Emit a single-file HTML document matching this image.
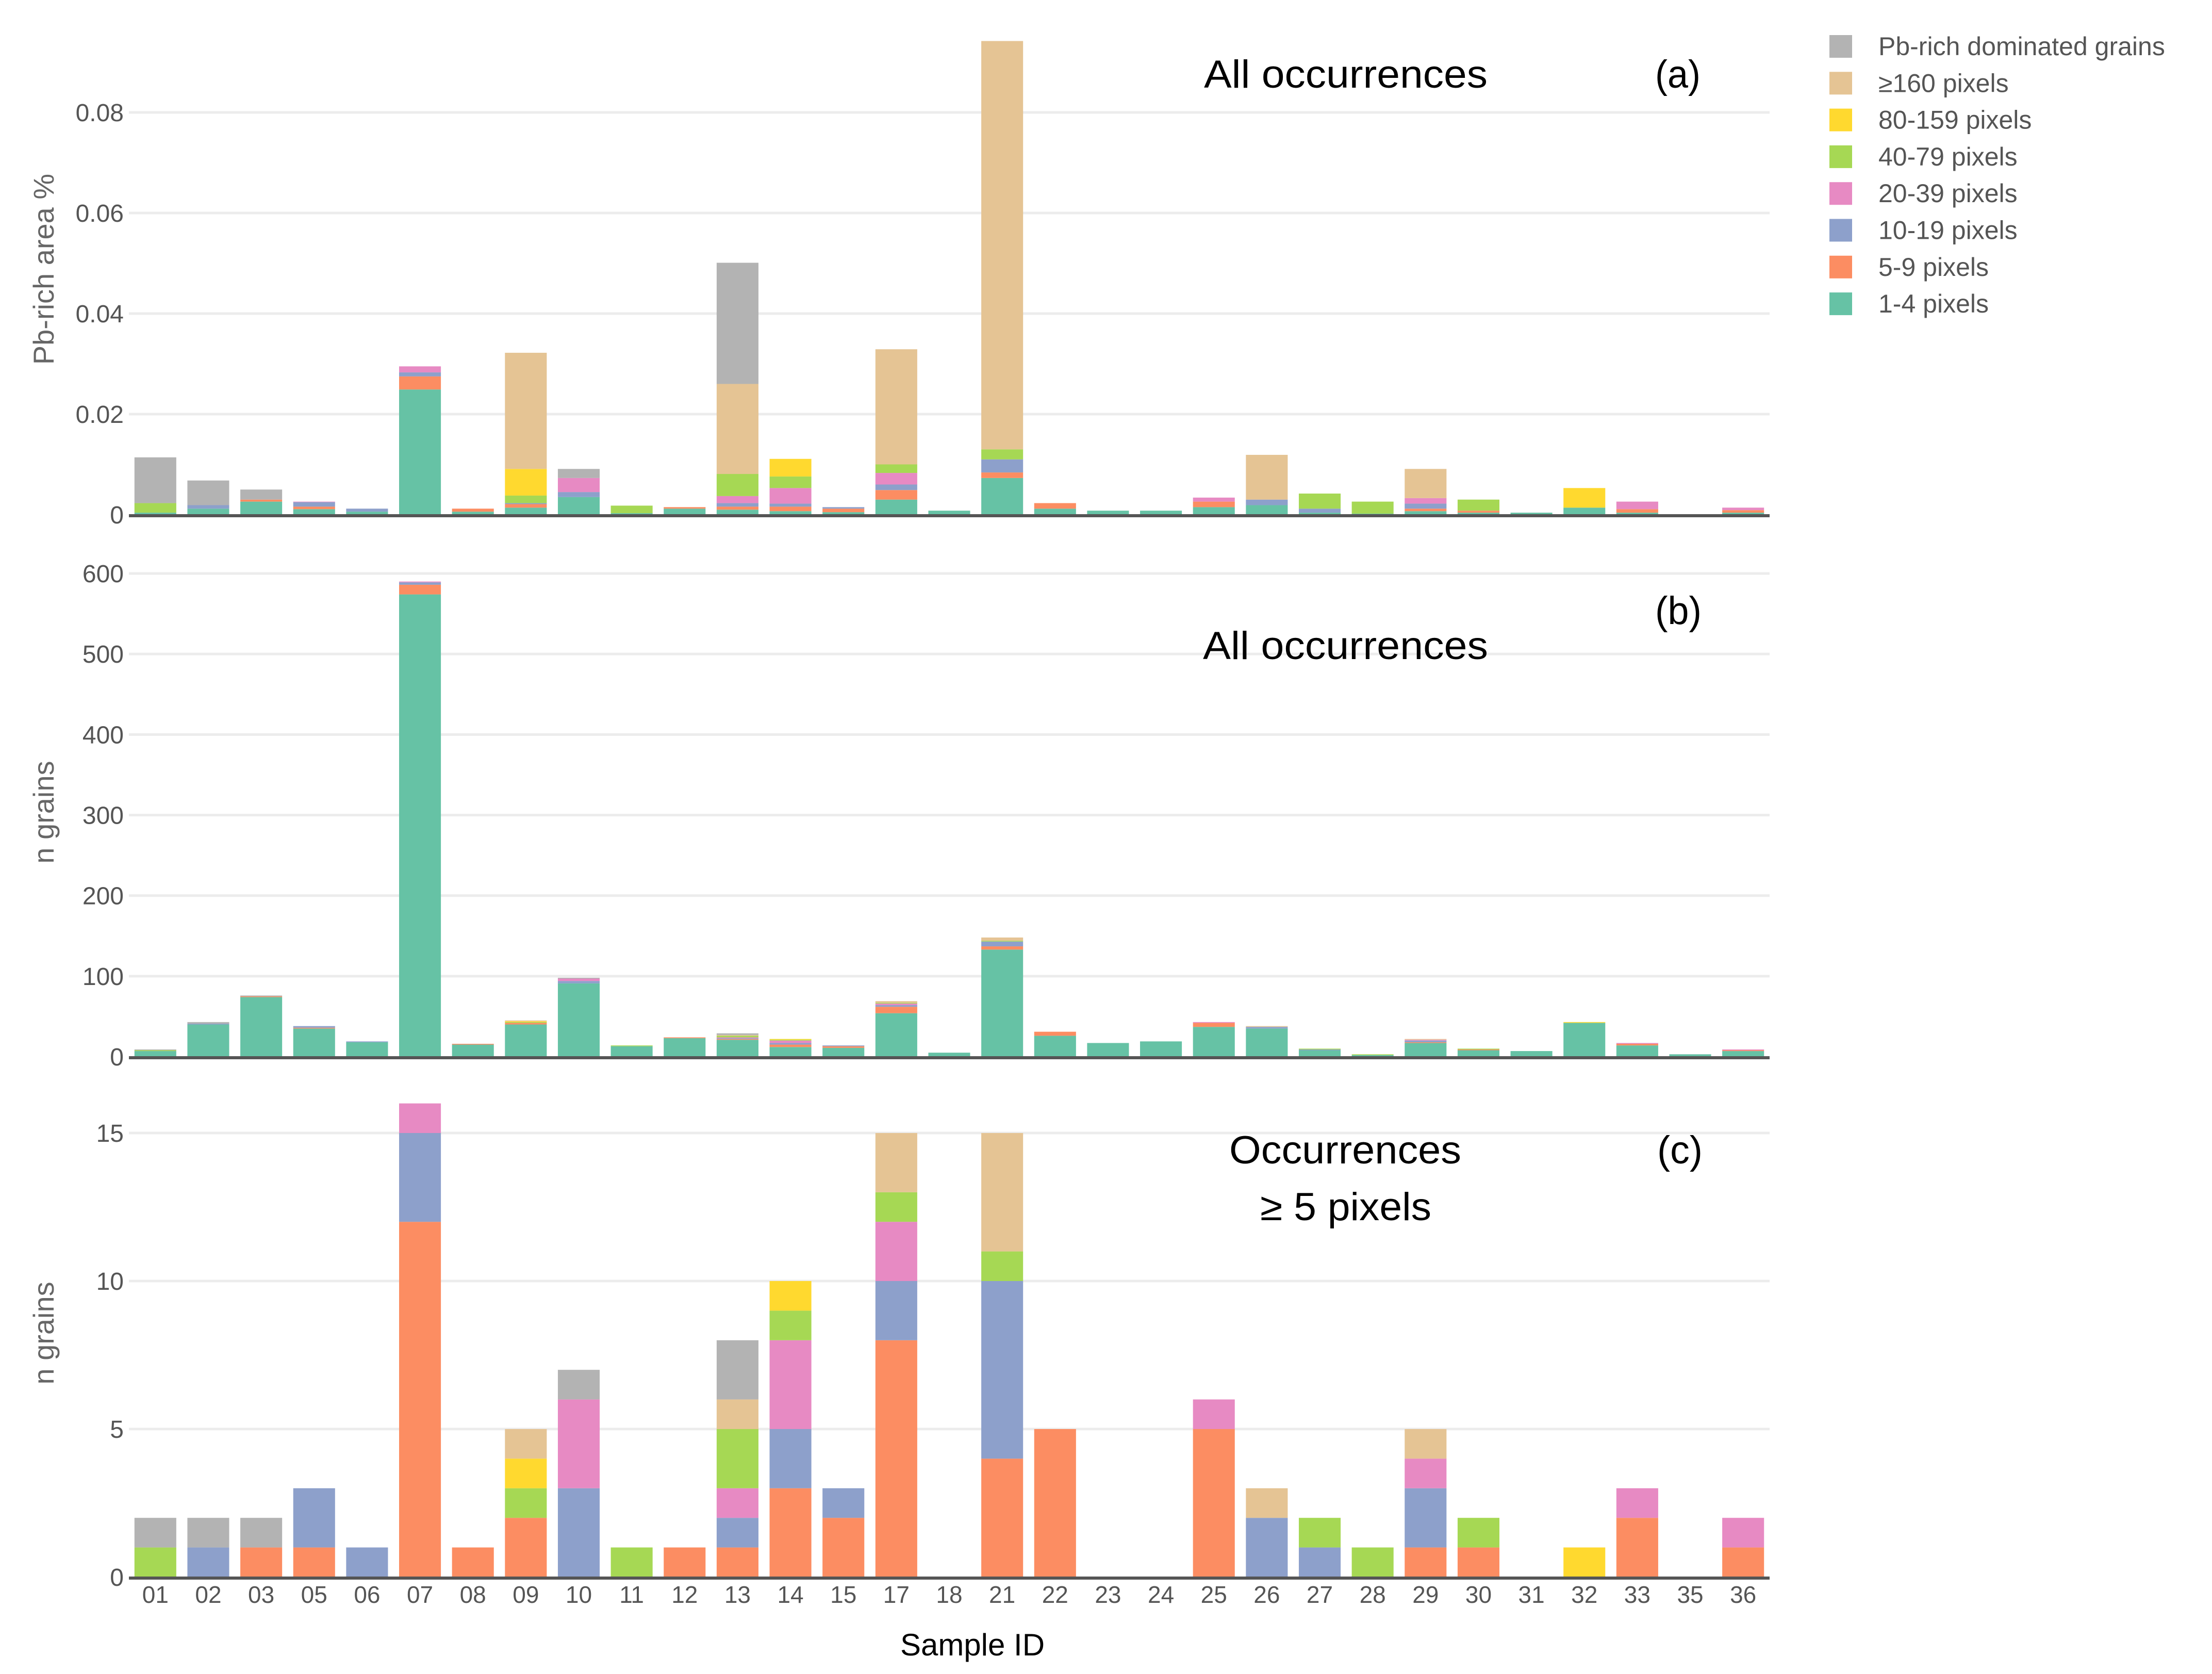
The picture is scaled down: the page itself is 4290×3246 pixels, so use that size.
<!DOCTYPE html>
<html><head><meta charset="utf-8"><style>
html,body{margin:0;padding:0;background:#fff;}
svg{display:block;}
</style></head><body>
<svg id="chart" width="4290" height="3246" viewBox="0 0 4290 3246" xmlns="http://www.w3.org/2000/svg" font-family="Liberation Sans, sans-serif">
<rect width="4290" height="3246" fill="#fff"/>
<g id="legend"></g>
<g id="pa"></g>
<g id="pb"></g>
<g id="pc"></g>
<text x="2335" y="170" font-size="76" textLength="550" lengthAdjust="spacingAndGlyphs" fill="#000">All occurrences</text>
<text x="3210" y="170" font-size="76" textLength="88" lengthAdjust="spacingAndGlyphs" fill="#000">(a)</text>
<text x="2333" y="1278" font-size="76" textLength="553" lengthAdjust="spacingAndGlyphs" fill="#000">All occurrences</text>
<text x="3210" y="1210" font-size="76" textLength="90" lengthAdjust="spacingAndGlyphs" fill="#000">(b)</text>
<text x="2384" y="2256" font-size="76" textLength="450" lengthAdjust="spacingAndGlyphs" fill="#000">Occurrences</text>
<text x="2444" y="2366" font-size="76" textLength="332" lengthAdjust="spacingAndGlyphs" fill="#000">≥ 5 pixels</text>
<text x="3214" y="2256" font-size="76" textLength="88" lengthAdjust="spacingAndGlyphs" fill="#000">(c)</text>
<text x="1886" y="3210" font-size="60" text-anchor="middle" fill="#000">Sample ID</text>
<text transform="translate(104,522) rotate(-90)" font-size="56" text-anchor="middle" fill="#666">Pb-rich area %</text>
<text transform="translate(104,1575) rotate(-90)" font-size="56" text-anchor="middle" fill="#666">n grains</text>
<text transform="translate(104,2585) rotate(-90)" font-size="56" text-anchor="middle" fill="#666">n grains</text>
</svg>
<script>
const categories = ["01","02","03","05","06","07","08","09","10","11","12","13","14","15","17","18","21","22","23","24","25","26","27","28","29","30","31","32","33","35","36"];
const seriesNames = ["1-4 pixels","5-9 pixels","10-19 pixels","20-39 pixels","40-79 pixels","80-159 pixels","≥160 pixels","Pb-rich dominated grains"];
const seriesColors = ["#66c2a5","#fc8d62","#8da0cb","#e78ac3","#a6d854","#ffd92f","#e5c494","#b3b3b3"];

// Panel (a): Pb-rich area %
const aT  = [.0004,.0012,.0026,.0011,.0006,.0249,.0006,.0014,.0035,.0003,.0012,.0010,.0007,.0005,.0030,.0008,.0073,.0012,.0008,.0008,.0015,.0019,.0004,.0002,.0007,.0004,.0004,.0014,.0004,0,.0004];
const aO  = [0,0,.0004,.0005,0,.0026,.0006,.0007,0,0,.0003,.0006,.0009,.0007,.0019,0,.0011,.0011,0,0,.0011,0,0,0,.0005,.0004,0,0,.0007,0,.0005];
const aB  = [0,.0007,0,.0009,.0006,.0008,0,.0002,.0010,0,0,.0007,.0006,.0003,.0011,0,.0026,0,0,0,0,.0011,.0008,0,.0010,0,0,0,0,0,0];
const aP  = [0,0,0,.0001,0,.0012,0,0,.0028,0,0,.0014,.0031,0,.0023,0,0,0,0,0,.0008,0,0,0,.0011,0,0,0,.0015,0,.0005];
const aG  = [.0019,0,0,0,0,0,0,.0015,0,.0015,0,.0044,.0023,0,.0017,0,.0020,0,0,0,0,0,.0030,.0024,0,.0022,0,0,0,0,0];
const aY  = [0,0,0,0,0,0,0,.0053,0,0,0,0,.0035,0,0,0,0,0,0,0,0,0,0,0,0,0,0,.0039,0,0,0];
const aTan= [0,0,0,0,0,0,0,.0231,0,0,0,.0179,0,0,.0229,0,.0812,0,0,0,0,.0089,0,0,.0058,0,0,0,0,0,0];
const aGr = [.0091,.0049,.0020,0,0,0,0,0,.0018,0,0,.0241,0,0,0,0,0,0,0,0,0,0,0,0,0,0,0,0,0,0,0];
const aTicks = [0,0.02,0.04,0.06,0.08];
const aTickLabels = ["0","0.02","0.04","0.06","0.08"];

// Panel (b): n grains, all occurrences
const bT  = [7,40,74,35,18,574,15,40,91,13,23,21,12,11,54,5,133,26,17,19,37,35,8,2,17,8,7,42,14,3,7];
const bO  = [0,0,1,1,0,12,1,2,0,0,1,1,3,2,8,0,4,5,0,0,5,0,0,0,1,1,0,0,2,0,1];
const bB  = [0,1,0,2,1,3,0,0,3,0,0,1,2,1,2,0,6,0,0,0,0,2,1,0,2,0,0,0,0,0,0];
const bP  = [0,0,0,0,0,1,0,0,3,0,0,1,3,0,2,0,0,0,0,0,1,0,0,0,1,0,0,0,1,0,1];
const bG  = [1,0,0,0,0,0,0,1,0,1,0,2,1,0,1,0,1,0,0,0,0,0,1,1,0,1,0,0,0,0,0];
const bY  = [0,0,0,0,0,0,0,1,0,0,0,0,1,0,0,0,0,0,0,0,0,0,0,0,0,0,0,1,0,0,0];
const bTan= [0,0,0,0,0,0,0,1,0,0,0,1,0,0,2,0,4,0,0,0,0,1,0,0,1,0,0,0,0,0,0];
const bGr = [1,2,1,0,0,0,0,0,1,0,0,2,0,0,0,0,0,0,0,0,0,0,0,0,0,0,0,0,0,0,0];
const bTicks = [0,100,200,300,400,500,600];
const bTickLabels = ["0","100","200","300","400","500","600"];

// Panel (c): n grains, occurrences >= 5 pixels
const cT  = [0,0,0,0,0,0,0,0,0,0,0,0,0,0,0,0,0,0,0,0,0,0,0,0,0,0,0,0,0,0,0];
const cO  = [0,0,1,1,0,12,1,2,0,0,1,1,3,2,8,0,4,5,0,0,5,0,0,0,1,1,0,0,2,0,1];
const cB  = [0,1,0,2,1,3,0,0,3,0,0,1,2,1,2,0,6,0,0,0,0,2,1,0,2,0,0,0,0,0,0];
const cP  = [0,0,0,0,0,1,0,0,3,0,0,1,3,0,2,0,0,0,0,0,1,0,0,0,1,0,0,0,1,0,1];
const cG  = [1,0,0,0,0,0,0,1,0,1,0,2,1,0,1,0,1,0,0,0,0,0,1,1,0,1,0,0,0,0,0];
const cY  = [0,0,0,0,0,0,0,1,0,0,0,0,1,0,0,0,0,0,0,0,0,0,0,0,0,0,0,1,0,0,0];
const cTan= [0,0,0,0,0,0,0,1,0,0,0,1,0,0,2,0,4,0,0,0,0,1,0,0,1,0,0,0,0,0,0];
const cGr = [1,1,1,0,0,0,0,0,1,0,0,2,0,0,0,0,0,0,0,0,0,0,0,0,0,0,0,0,0,0,0];
const cTicks = [0,5,10,15];
const cTickLabels = ["0","5","10","15"];

const NS = "http://www.w3.org/2000/svg";
const X0 = 250, X1 = 3432;
const band = (X1 - X0) / categories.length;
const barW = band * 0.79;
function xPos(i){ return X0 + band * i + (band - barW) / 2; }
function mk(tag, attrs, parent){
  const e = document.createElementNS(NS, tag);
  for (const k in attrs) e.setAttribute(k, attrs[k]);
  parent.appendChild(e);
  return e;
}
function drawPanel(gid, y0, yTop, vTop, series, ticks, tickLabels, showX, pname){
  const g = document.getElementById(gid);
  const yScale = v => y0 - (v / vTop) * (y0 - yTop);
  ticks.forEach((t, k) => {
    if (t !== 0) {
      const gl = mk("line", {x1:X0, x2:X1, y1:yScale(t), y2:yScale(t), stroke:"#ececec", "stroke-width":5}, g);
      
      
    }
    const tl = mk("text", {x:240, y:yScale(t)+17, "font-size":48, "text-anchor":"end", fill:"#555"}, g);
    tl.textContent = tickLabels[k];
    
    
  });
  categories.forEach((c, i) => {
    let acc = 0;
    series.forEach((arr, s) => {
      const v = arr[i];
      if (v > 0) {
        const yA = yScale(acc), yB = yScale(acc + v);
        const r = mk("rect", {x:xPos(i), y:yB, width:barW, height:yA - yB, fill:seriesColors[s]}, g);
        
        
      }
      acc += v;
    });
    if (showX) {
      const xl = mk("text", {x:xPos(i)+barW/2, y:y0+50, "font-size":46, "text-anchor":"middle", fill:"#555"}, g);
      xl.textContent = c;
      
      
    }
  });
  const ax = mk("line", {x1:X0, x2:X1, y1:y0+2, y2:y0+2, stroke:"#555", "stroke-width":6}, g);
  
  
}
drawPanel("pa", 998, 218, 0.08, [aT,aO,aB,aP,aG,aY,aTan,aGr], aTicks, aTickLabels, false, "panel-a");
drawPanel("pb", 2049, 1112, 600, [bT,bO,bB,bP,bG,bY,bTan,bGr], bTicks, bTickLabels, false, "panel-b");
drawPanel("pc", 3058, 2197, 15, [cT,cO,cB,cP,cG,cY,cTan,cGr], cTicks, cTickLabels, true, "panel-c");

const lg = document.getElementById("legend");
for (let k = 7; k >= 0; k--) {
  const row = 7 - k;
  const cy = 90 + row * 71.3;
  const sw = mk("rect", {x:3548, y:cy-22, width:44, height:44, fill:seriesColors[k]}, lg);
  
  
  const t = mk("text", {x:3643, y:cy+17, "font-size":50, fill:"#555"}, lg);
  t.textContent = seriesNames[k];
  
  
}
</script>
</body></html>
